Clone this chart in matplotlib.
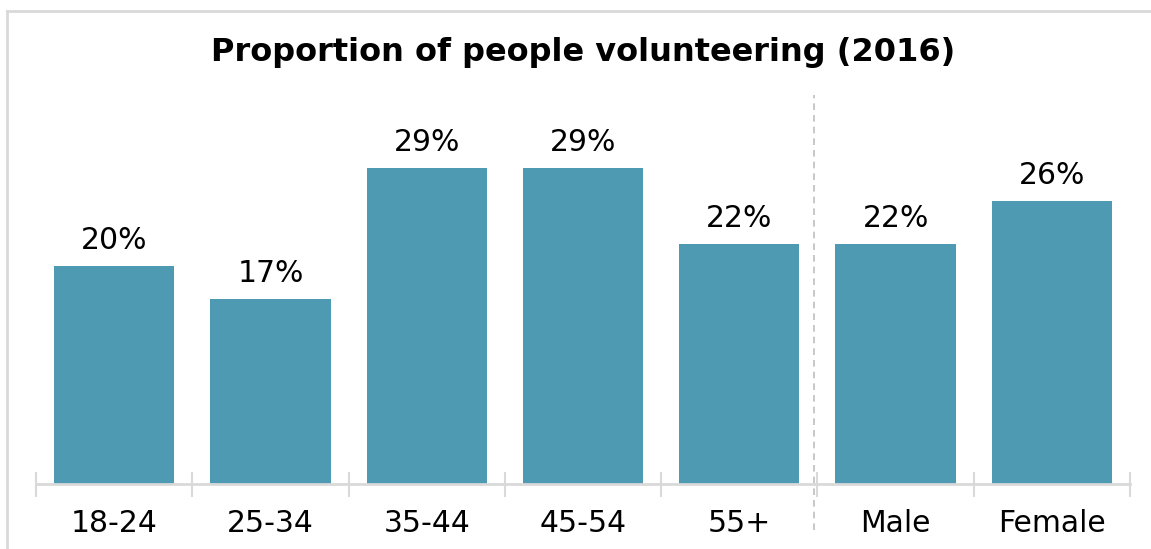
import matplotlib.pyplot as plt
from matplotlib.lines import Line2D

categories = ['18-24', '25-34', '35-44', '45-54', '55+', 'Male', 'Female']
values = [20, 17, 29, 29, 22, 22, 26]
labels = ['20%', '17%', '29%', '29%', '22%', '22%', '26%']

bar_color = '#4E9AB2'
grey = '#D9D9D9'

W, H = 1151, 549
fig = plt.figure(figsize=(W / 100, H / 100), dpi=100)
fig.patch.set_facecolor('white')

# light frame (top and left edges) around the chart area
fx, fy = 7 / W, 1 - 11 / H
fig.lines.append(Line2D([fx, fx], [0, fy], transform=fig.transFigure,
                        color=grey, linewidth=2))
fig.lines.append(Line2D([fx, 1], [fy, fy], transform=fig.transFigure,
                        color=grey, linewidth=2))

ax = fig.add_axes([36 / W, 65 / H, (1130 - 36) / W, (484 - 95) / H])
x = list(range(len(categories)))
ax.bar(x, values, width=0.77, color=bar_color, zorder=2)
ax.set_xlim(-0.5, len(categories) - 0.5)
ax.set_ylim(0, 35.7)

for xi, v, lab in zip(x, values, labels):
    ax.annotate(lab, (xi, v), xytext=(0, 8), textcoords='offset points',
                ha='center', va='bottom', fontsize=21.5, color='black')

# age groups vs gender separator
ax.plot([4.475, 4.475], [-4.2, 35.7], color='#BFBFBF', linestyle=(0, (4, 3)),
        linewidth=1.2, clip_on=False)

for s in ['top', 'right', 'left']:
    ax.spines[s].set_visible(False)
ax.spines['bottom'].set_color(grey)
ax.spines['bottom'].set_linewidth(2)
ax.set_yticks([])

# tick marks sit on the category boundaries
ax.set_xticks([i - 0.5 for i in range(len(categories) + 1)], minor=False)
ax.set_xticklabels([])
ax.tick_params(axis='x', which='major', direction='inout', length=18,
               width=1.5, color=grey)
ax.set_xticks(x, minor=True)
ax.set_xticklabels(categories, minor=True, fontsize=21.5)
ax.tick_params(axis='x', which='minor', length=0, pad=18)

fig.text(583 / W, 1 - 52 / H, 'Proportion of people volunteering (2016)',
         ha='center', va='center', fontsize=23, fontweight='bold')

fig.savefig('out.png', dpi=100)
